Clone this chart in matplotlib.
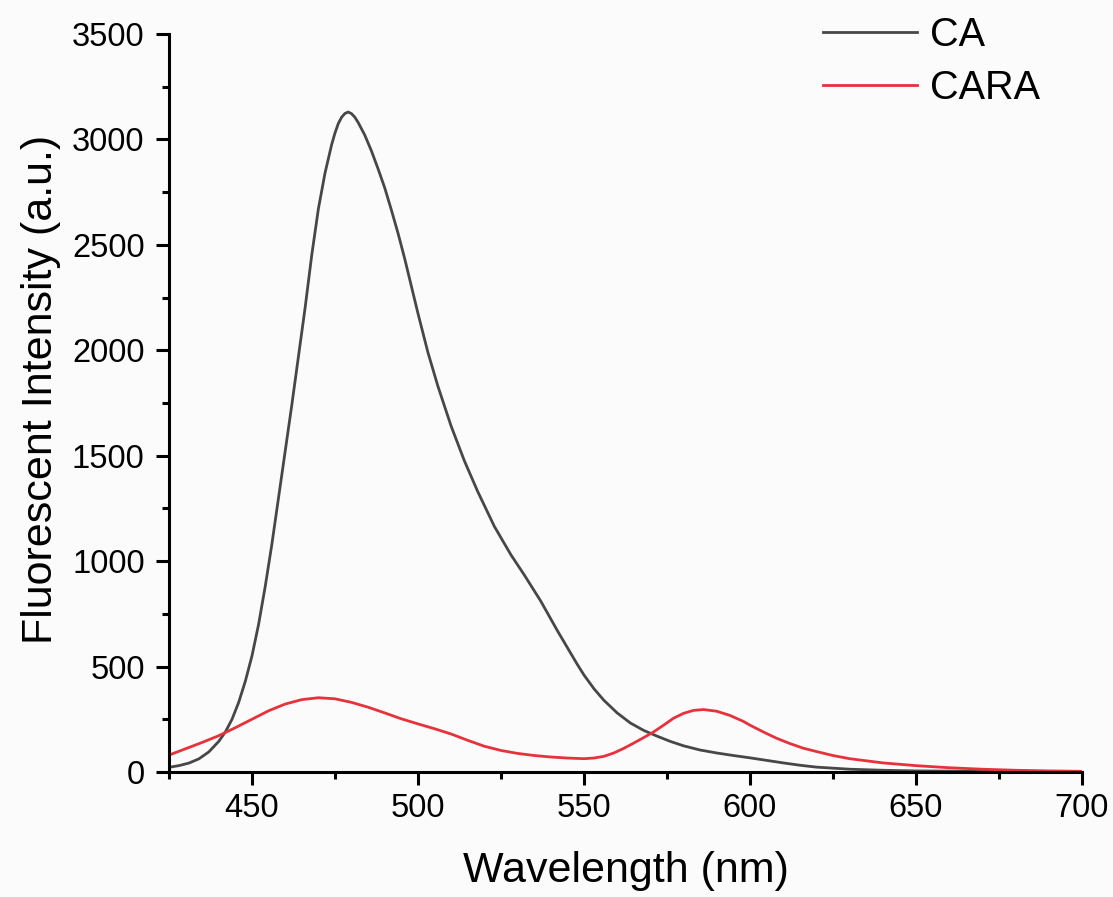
import matplotlib
matplotlib.use('Agg')
import matplotlib.pyplot as plt
from matplotlib.ticker import MultipleLocator

plt.rcParams['font.family'] = ['Liberation Sans', 'DejaVu Sans']

# emission spectra, wavelength in nm
ca_wavelength = [425, 428, 431, 434, 437, 440, 442, 444, 446, 448, 450, 452, 454, 456,
                 458, 460, 462, 464, 466, 468, 470, 472, 474, 475, 476, 477, 478, 479,
                 480, 481, 482, 484, 486, 488, 490, 492, 494, 496, 498, 500, 503, 506,
                 510, 514, 518, 523, 528, 532, 537, 542, 545, 548, 550, 553, 556, 560,
                 564, 568, 572, 576, 580, 585, 590, 595, 600, 605, 610, 615, 620, 630,
                 640, 650, 660, 680, 700]
ca_intensity = [22, 30, 42, 62, 95, 145, 190, 250, 330, 430, 550, 700, 880, 1080,
                1300, 1520, 1740, 1970, 2200, 2450, 2670, 2840, 2975, 3030, 3075, 3105,
                3123, 3130, 3122, 3105, 3080, 3020, 2945, 2860, 2770, 2665, 2555, 2435,
                2305, 2175, 1990, 1830, 1640, 1475, 1330, 1165, 1030, 935, 810, 670, 590,
                510, 460, 395, 340, 280, 232, 197, 170, 145, 124, 104, 90, 78, 67, 55,
                43, 32, 23, 13, 8, 5, 4, 3, 2]

cara_wavelength = [425, 430, 435, 440, 445, 450, 455, 460, 465, 470, 475, 480, 485, 490,
                   495, 500, 505, 510, 515, 520, 525, 530, 535, 540, 545, 550, 553, 556,
                   559, 562, 565, 568, 571, 574, 577, 580, 583, 586, 590, 594, 598, 600,
                   604, 608, 612, 616, 620, 625, 630, 640, 650, 660, 670, 680, 690, 700]
cara_intensity = [80, 110, 140, 172, 210, 250, 290, 322, 343, 352, 347, 330, 307, 280,
                  252, 228, 205, 180, 150, 122, 102, 88, 78, 71, 66, 63, 66, 74,
                  90, 112, 137, 163, 190, 222, 255, 278, 292, 296, 288, 268, 240, 222,
                  190, 160, 135, 113, 97, 78, 63, 43, 30, 20, 13, 8, 5, 3]

fig = plt.figure(figsize=(11.13, 8.97), dpi=100, facecolor='#fbfbfb')
ax = fig.add_axes([0.1518, 0.1394, 0.8203, 0.8227])
ax.set_facecolor('#fbfbfb')

ax.plot(ca_wavelength, ca_intensity, color='#474747', linewidth=2.0, label='CA')
ax.plot(cara_wavelength, cara_intensity, color='#e6323b', linewidth=2.0, label='CARA')

ax.set_xlim(425, 700)
ax.set_ylim(0, 3500)
ax.xaxis.set_major_locator(MultipleLocator(50))
ax.xaxis.set_minor_locator(MultipleLocator(25))
ax.yaxis.set_major_locator(MultipleLocator(500))
ax.yaxis.set_minor_locator(MultipleLocator(250))

for side in ['top', 'right']:
    ax.spines[side].set_visible(False)
for side in ['left', 'bottom']:
    ax.spines[side].set_linewidth(2.2)

ax.tick_params(which='major', length=9.5, width=2.2, labelsize=23.5, direction='out')
ax.tick_params(which='minor', length=5, width=2.2, direction='out')
ax.tick_params(axis='x', which='major', pad=6)
ax.tick_params(axis='y', which='major', pad=8)

ax.set_xlabel('Wavelength (nm)', fontsize=31, labelpad=19)
ax.set_ylabel('Fluorescent Intensity (a.u.)', fontsize=31)
ax.yaxis.set_label_coords(-0.118, 0.519)

ax.legend(loc='upper left', bbox_to_anchor=(823 / 1113, 1 - 16 / 897),
          bbox_transform=fig.transFigure, frameon=False, fontsize=28.5,
          handlelength=2.37, handletextpad=0.33, labelspacing=0.38,
          borderpad=0, borderaxespad=0)

fig.savefig('out.png', dpi=100, facecolor=fig.get_facecolor())
